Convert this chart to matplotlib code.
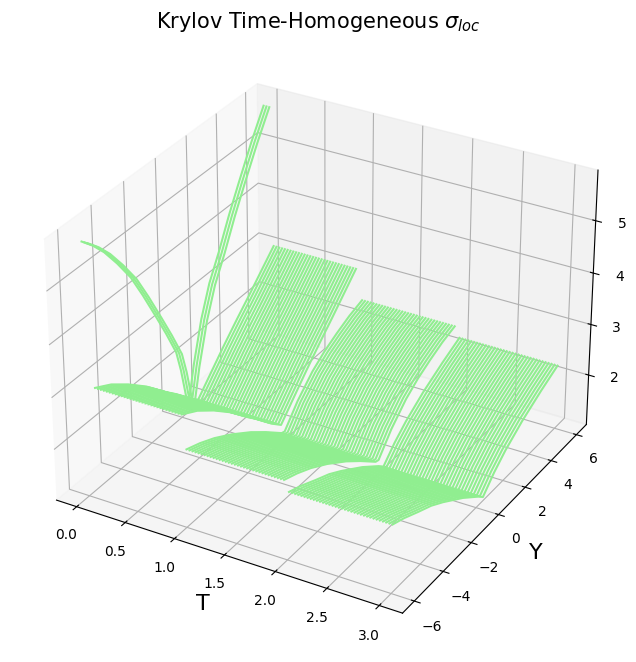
import numpy as np
import matplotlib
matplotlib.use('Agg')
import matplotlib.pyplot as plt

# T value of each drawn smile
stalk_t = [0.00, 0.03, 0.06]
sheet1_t = [0.10, 0.13, 0.16, 0.19, 0.22, 0.25, 0.28, 0.31, 0.34, 0.37, 0.40, 0.43, 0.46, 0.49, 0.52,
            0.55, 0.58, 0.61, 0.64, 0.67, 0.70, 0.73, 0.76, 0.79, 0.82, 0.85, 0.88, 0.91, 0.94, 0.97]
sheet2_t = [0.99, 1.02, 1.05, 1.08, 1.11, 1.14, 1.17, 1.20, 1.23, 1.26, 1.29, 1.32, 1.35, 1.38, 1.41, 1.44, 1.47,
            1.50, 1.53, 1.56, 1.59, 1.62, 1.65, 1.68, 1.71, 1.74, 1.77, 1.80, 1.83, 1.86, 1.89, 1.92, 1.95]
sheet3_t = [1.985, 2.015, 2.045, 2.075, 2.105, 2.135, 2.165, 2.195, 2.225, 2.255, 2.285, 2.315, 2.345, 2.375, 2.405, 2.435, 2.465,
            2.495, 2.525, 2.555, 2.585, 2.615, 2.645, 2.675, 2.705, 2.735, 2.765, 2.795, 2.825, 2.855, 2.885, 2.915, 2.945, 2.975]

# smiles: log-moneyness and local vol
stalk_y = [-5.90, -5.20, -4.55, -3.80, -3.00, -2.30, -1.54, -0.90, -0.28, 0.00, 0.25, 0.42,
           0.85, 1.42, 2.00, 2.67, 3.40, 4.11, 5.00, 5.88]
stalk_z = [5.82, 5.58, 5.31, 4.93, 4.48, 3.98, 3.40, 2.90, 2.38, 1.95, 1.45, 1.10,
           1.85, 2.63, 3.20, 3.66, 4.22, 4.71, 5.30, 5.83]
sheet1_y = [-6.04, -5.00, -3.96, -2.85, -1.74, -0.95, -0.20, 0.47, 1.30, 2.28, 3.20, 4.10, 5.00, 5.84]
sheet1_z = [3.17, 2.98, 2.72, 2.40, 2.02, 1.77, 1.50, 1.30, 1.60, 1.95, 2.26, 2.55, 2.85, 3.13]
sheet2_y = [-5.91, -5.00, -4.09, -3.00, -1.71, -0.70, 0.38, 0.59, 1.50, 2.55, 3.40, 4.30, 5.20, 6.18]
sheet2_z = [2.48, 2.37, 2.23, 2.02, 1.73, 1.47, 1.17, 1.15, 1.53, 1.86, 2.05, 2.20, 2.33, 2.43]
sheet3_y = [-5.83, -5.00, -4.01, -3.10, -2.26, -0.81, 0.36, 0.70, 1.50, 2.32, 3.56, 5.00, 6.30]
sheet3_z = [2.25, 2.15, 2.00, 1.87, 1.71, 1.40, 1.11, 1.01, 1.28, 1.50, 1.76, 2.00, 2.19]

fig = plt.figure(figsize=(6.36, 6.62), dpi=100)
ax = fig.add_axes([8 / 636, 10 / 662, 620 / 636, 616 / 662], projection='3d')

sheets = [(stalk_t, stalk_y, stalk_z), (sheet1_t, sheet1_y, sheet1_z),
          (sheet2_t, sheet2_y, sheet2_z), (sheet3_t, sheet3_y, sheet3_z)]
for t_vals, y_vals, z_vals in sheets:
    T, Y = np.meshgrid(t_vals, y_vals)
    Z = np.tile(np.array(z_vals)[:, None], (1, len(t_vals)))
    ax.plot_wireframe(T, Y, Z, rstride=0, cstride=1, color='lightgreen')

ax.set_xlim(-0.21, 3.22)
ax.set_ylim(-6.8, 6.8)
ax.set_zlim(1.005, 5.95)
ax.set_xlabel('T', fontsize=16)
ax.set_ylabel('Y', fontsize=16)
ax.set_title(r'Krylov Time-Homogeneous $\sigma_{loc}$', fontsize=15)
plt.savefig('out.png', dpi=100)
